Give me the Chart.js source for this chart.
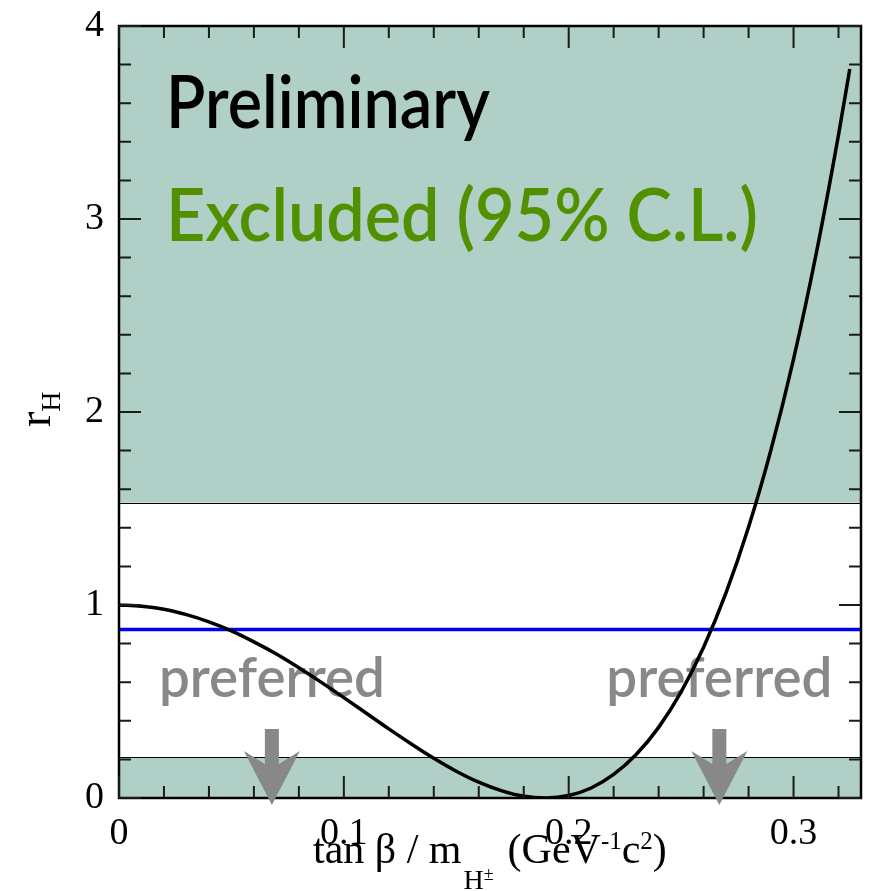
<!DOCTYPE html>
<html>
<head>
<meta charset="utf-8">
<title>r_H vs tan beta / m_H</title>
<script src="https://cdn.jsdelivr.net/npm/chart.js@4.4.0/dist/chart.umd.min.js"></script>
<style>
    html, body { margin: 0; padding: 0; background: #ffffff; }
    .chart-wrap { position: relative; width: 870px; height: 891px; }
</style>
</head>
<body>
<div class="chart-wrap"><canvas id="rhChart"></canvas></div>
<script>
// values
const xValues = [
    0, 0.01, 0.02, 0.03, 0.04, 0.05, 0.06, 0.07, 0.08, 0.09,
    0.10, 0.11, 0.12, 0.13, 0.14, 0.15, 0.16, 0.17, 0.18, 0.19,
    0.20, 0.21, 0.22, 0.23, 0.24, 0.25, 0.26, 0.27, 0.28, 0.29,
    0.30, 0.31, 0.32, 0.325,
];
const rHValues = [
    1.000, 0.994, 0.978, 0.950, 0.913, 0.866, 0.809, 0.746, 0.675, 0.599,
    0.520, 0.439, 0.358, 0.280, 0.206, 0.139, 0.082, 0.038, 0.009, 0.000,
    0.013, 0.052, 0.122, 0.225, 0.366, 0.550, 0.781, 1.064, 1.404, 1.806,
    2.274, 2.816, 3.436, 3.777,
];
const measuredX = [0, 0.33];
const measuredR = [0.873, 0.873];
const excludedLow = [0, 0.21];
const excludedHigh = [1.53, 4];
const preferredX = [0.068, 0.267];

const xMajorTicks = [0, 0.1, 0.2, 0.3];
const xMinorTicks = [0.02, 0.04, 0.06, 0.08, 0.12, 0.14, 0.16, 0.18, 0.22, 0.24, 0.26, 0.28, 0.32];
const yMajorTicks = [0, 1, 2, 3, 4];
const yMinorTicks = [0.2, 0.4, 0.6, 0.8, 1.2, 1.4, 1.6, 1.8, 2.2, 2.4, 2.6, 2.8, 3.2, 3.4, 3.6, 3.8];

const BAND_COLOR = "#b0cfc7";
const GREEN = "#519100";
const GRAY = "#888888";
const SERIF = "'Liberation Serif', 'Times New Roman', serif";
const SANS = "Lato, 'Noto Sans', sans-serif";

function toPoints(xs, ys) {
    return xs.map(function (v, i) {
        return { x: v, y: ys[i] };
    });
}

const backgroundPlugin = {
    id: "backgroundBands",
    beforeDatasetsDraw(chart) {
        const { ctx, chartArea: a, scales } = chart;
        const x = scales.x;
        const y = scales.y;
        ctx.save();

        [excludedLow, excludedHigh].forEach(function (band) {
            const top = y.getPixelForValue(band[1]);
            const bottom = y.getPixelForValue(band[0]);
            ctx.fillStyle = BAND_COLOR;
            ctx.fillRect(a.left, top, a.right - a.left, bottom - top);
        });

        ctx.strokeStyle = "#000000";
        ctx.lineWidth = 1;
        [excludedLow[1], excludedHigh[0]].forEach(function (v) {
            const py = Math.round(y.getPixelForValue(v)) + 0.5;
            ctx.beginPath();
            ctx.moveTo(a.left, py);
            ctx.lineTo(a.right, py);
            ctx.stroke();
        });

        ctx.textBaseline = "alphabetic";
        ctx.textAlign = "left";
        ctx.font = "600 74px " + SANS;
        ctx.fillStyle = "#000000";
        ctx.fillText("Preliminary", 166, 128, 324);
        ctx.fillStyle = GREEN;
        ctx.fillText("Excluded (95% C.L.)", 166, 241, 592);

        ctx.textAlign = "center";
        ctx.font = "600 56px " + SANS;
        ctx.fillStyle = GRAY;
        preferredX.forEach(function (v) {
            ctx.fillText("preferred", x.getPixelForValue(v), 697, 226);
        });

        ctx.restore();
    },
};

const framePlugin = {
    id: "frameAndTicks",
    afterDatasetsDraw(chart) {
        const { ctx, chartArea: a, scales } = chart;
        const x = scales.x;
        const y = scales.y;
        ctx.save();

        ctx.strokeStyle = "#000000";
        ctx.lineWidth = 2.5;
        ctx.strokeRect(a.left, a.top, a.right - a.left, a.bottom - a.top);

        ctx.strokeStyle = "#1a1a1a";
        ctx.lineWidth = 2;
        function xTick(v, len) {
            const px = x.getPixelForValue(v);
            ctx.beginPath();
            ctx.moveTo(px, a.bottom);
            ctx.lineTo(px, a.bottom - len);
            ctx.moveTo(px, a.top);
            ctx.lineTo(px, a.top + len);
            ctx.stroke();
        }
        function yTick(v, len) {
            const py = y.getPixelForValue(v);
            ctx.beginPath();
            ctx.moveTo(a.left, py);
            ctx.lineTo(a.left + len, py);
            ctx.moveTo(a.right, py);
            ctx.lineTo(a.right - len, py);
            ctx.stroke();
        }
        xMajorTicks.forEach(function (v) { xTick(v, 22); });
        xMinorTicks.forEach(function (v) { xTick(v, 12); });
        yMajorTicks.forEach(function (v) { yTick(v, 22); });
        yMinorTicks.forEach(function (v) { yTick(v, 12); });

        // arrows pointing down to the preferred regions
        ctx.fillStyle = GRAY;
        preferredX.forEach(function (v) {
            const cx = x.getPixelForValue(v);
            const tip = a.bottom + 7;
            ctx.beginPath();
            ctx.moveTo(cx - 7, tip - 76);
            ctx.lineTo(cx + 7, tip - 76);
            ctx.lineTo(cx + 7, tip - 41);
            ctx.lineTo(cx + 28, tip - 54);
            ctx.lineTo(cx, tip);
            ctx.lineTo(cx - 28, tip - 54);
            ctx.lineTo(cx - 7, tip - 41);
            ctx.closePath();
            ctx.fill();
        });

        ctx.restore();
    },
    afterDraw(chart) {
        const ctx = chart.ctx;
        ctx.save();
        ctx.fillStyle = "#000000";
        ctx.textBaseline = "alphabetic";
        ctx.textAlign = "left";

        // x axis title: tan β / m_H± (GeV^-1 c^2)
        const base = 863;
        let cx = 313;
        ctx.font = "42px " + SERIF;
        ctx.fillText("tan β / m", cx, base);
        cx += ctx.measureText("tan β / m").width + 2;
        ctx.font = "28px " + SERIF;
        ctx.fillText("H", cx, 889);
        cx += ctx.measureText("H").width;
        ctx.font = "18px " + SERIF;
        ctx.fillText("±", cx, 880);
        cx += ctx.measureText("±").width + 14;
        ctx.font = "42px " + SERIF;
        ctx.fillText("(GeV", cx, base);
        cx += ctx.measureText("(GeV").width;
        ctx.font = "25px " + SERIF;
        ctx.fillText("-1", cx, base - 14);
        cx += ctx.measureText("-1").width;
        ctx.font = "42px " + SERIF;
        ctx.fillText("c", cx, base);
        cx += ctx.measureText("c").width;
        ctx.font = "25px " + SERIF;
        ctx.fillText("2", cx, base - 14);
        cx += ctx.measureText("2").width;
        ctx.font = "42px " + SERIF;
        ctx.fillText(")", cx, base);

        // y axis title: r_H
        ctx.translate(50, 427);
        ctx.rotate(-Math.PI / 2);
        ctx.font = "46px " + SERIF;
        ctx.fillText("r", 0, 0);
        const rw = ctx.measureText("r").width;
        ctx.font = "28px " + SERIF;
        ctx.fillText("H", rw, 10);

        ctx.restore();
    },
};

function initializeChart() {
    const canvas = document.getElementById("rhChart");
    new Chart(canvas.getContext("2d"), {
        type: "line",
        data: {
            datasets: [
                {
                    label: "r_H",
                    data: toPoints(xValues, rHValues),
                    borderColor: "#000000",
                    borderWidth: 3.5,
                    pointRadius: 0,
                    cubicInterpolationMode: "monotone",
                    fill: false,
                },
                {
                    label: "measured",
                    data: toPoints(measuredX, measuredR),
                    borderColor: "#0000ee",
                    borderWidth: 3.5,
                    pointRadius: 0,
                    fill: false,
                },
            ],
        },
        options: {
            responsive: true,
            maintainAspectRatio: false,
            animation: false,
            events: [],
            layout: {
                padding: { top: 22, right: 9, left: 0, bottom: 0 },
            },
            plugins: {
                legend: { display: false },
                tooltip: { enabled: false },
            },
            scales: {
                x: {
                    type: "linear",
                    min: 0,
                    max: 0.33,
                    grid: { display: false },
                    border: { display: false },
                    afterBuildTicks: function (scale) {
                        scale.ticks = xMajorTicks.map(function (v) { return { value: v }; });
                    },
                    afterFit: function (scale) {
                        scale.height = 93;
                    },
                    ticks: {
                        padding: 9,
                        color: "#000000",
                        maxRotation: 0,
                        font: { family: SERIF, size: 38, lineHeight: 1 },
                        callback: function (value) {
                            return String(value);
                        },
                    },
                },
                y: {
                    type: "linear",
                    min: 0,
                    max: 4,
                    grid: { display: false },
                    border: { display: false },
                    afterBuildTicks: function (scale) {
                        scale.ticks = yMajorTicks.map(function (v) { return { value: v }; });
                    },
                    afterFit: function (scale) {
                        scale.width = 119;
                    },
                    ticks: {
                        padding: 7,
                        color: "#000000",
                        font: { family: SERIF, size: 38, lineHeight: 1 },
                        callback: function (value) {
                            return String(value);
                        },
                    },
                },
            },
        },
        plugins: [backgroundPlugin, framePlugin],
    });
}

initializeChart();
</script>
</body>
</html>
